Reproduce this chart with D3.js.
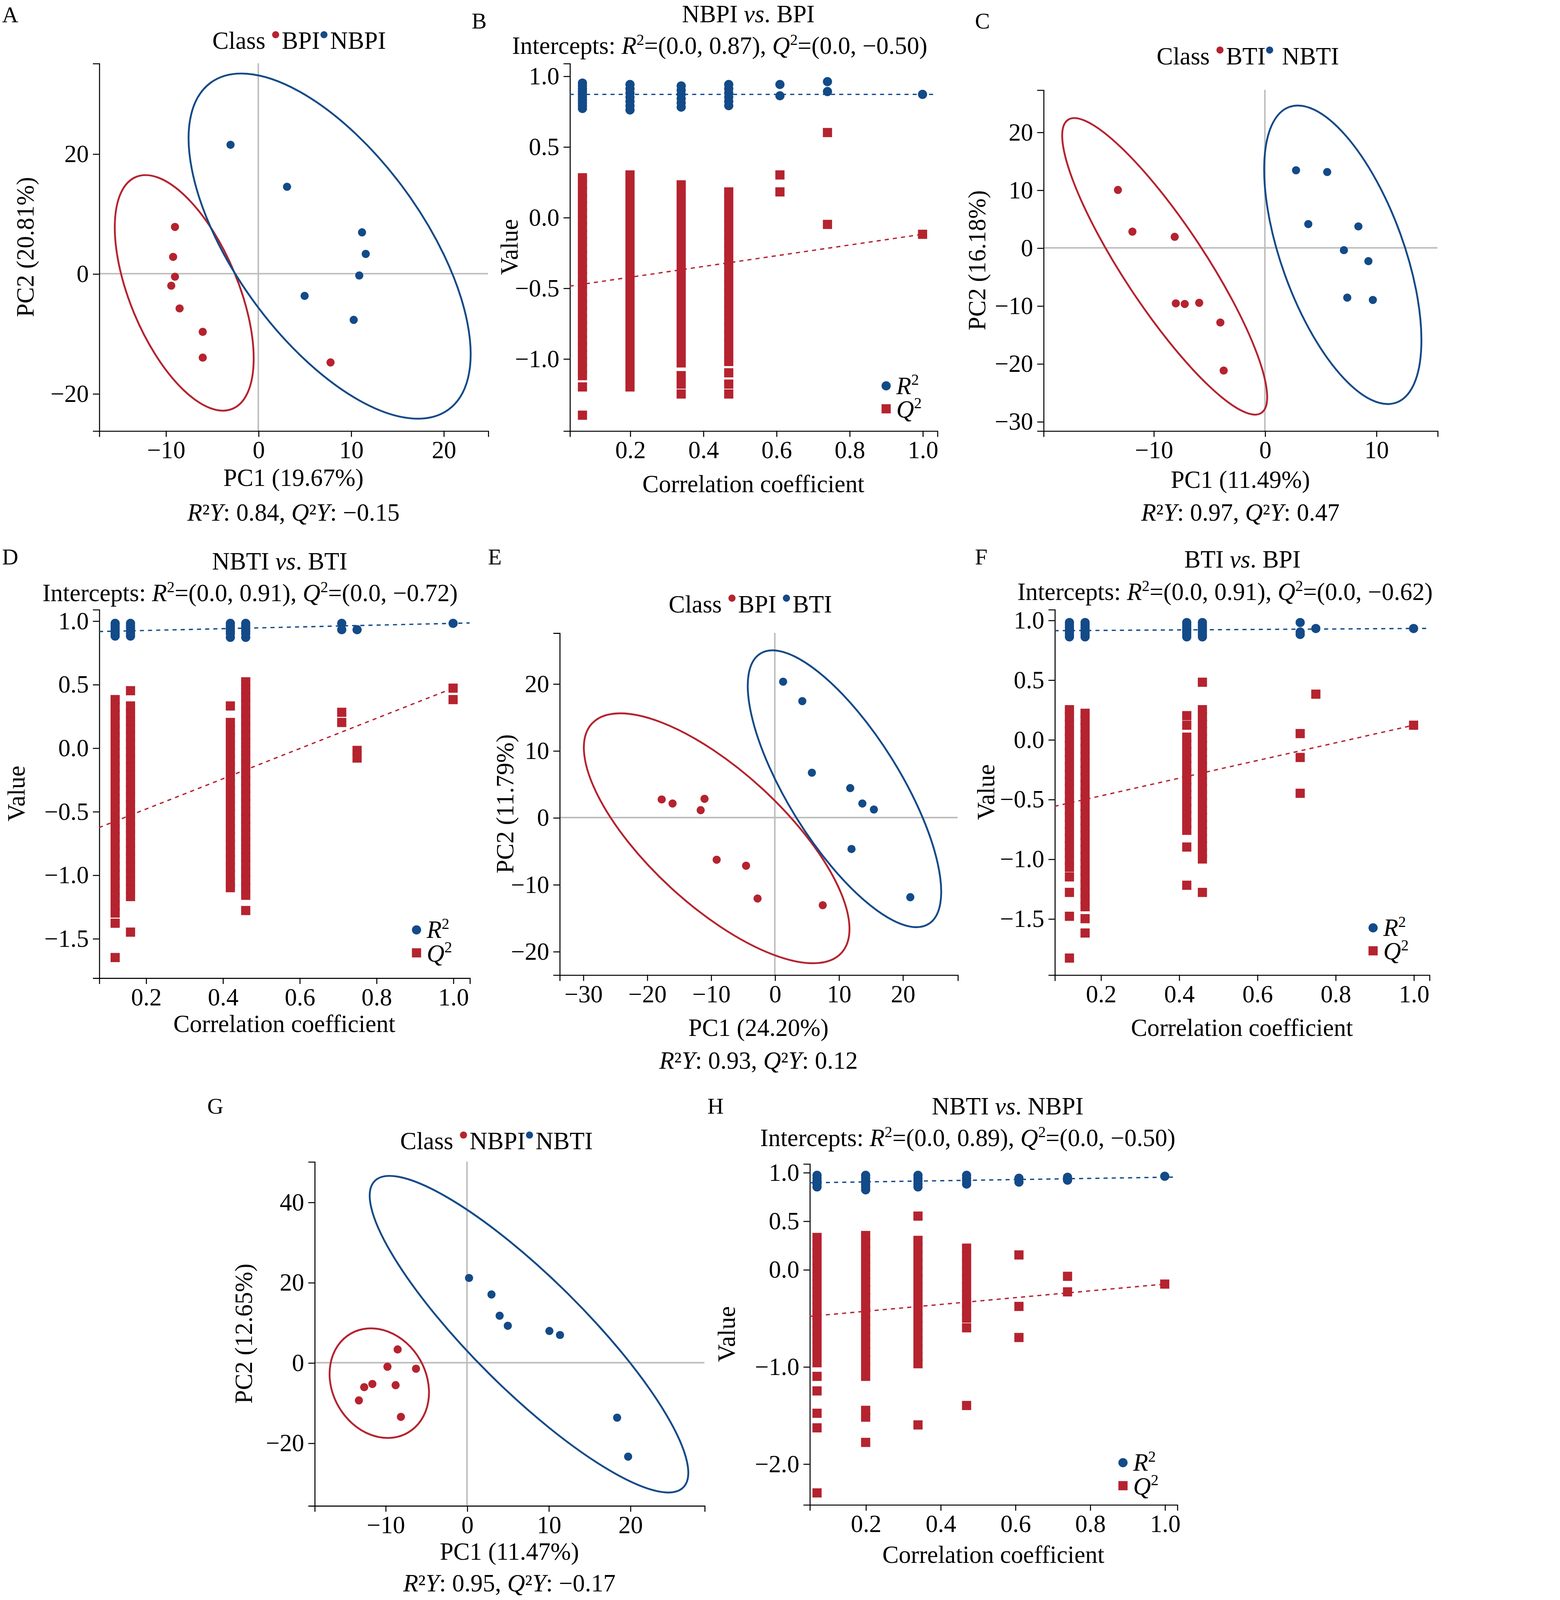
<!DOCTYPE html>
<html>
<head>
<meta charset="utf-8">
<script src="https://cdn.jsdelivr.net/npm/d3@7"></script>
<style>
html, body { margin: 0; padding: 0; background: #fff; overflow: hidden; }
svg { display: block; width: 100vw; height: 100vh; }
text { font-family: "Liberation Serif", "DejaVu Serif", serif; fill: #000; }
.axis path, .axis line { stroke: #000; stroke-width: 1; }
.axis text { font-family: "Liberation Serif", serif; font-size: 24px; }
</style>
</head>
<body>
<script>
const RED = "#B5232F", BLUE = "#134A88";
const svg = d3.select("body").append("svg")
    .attr("viewBox", "0 0 1428 1567.5")
    .attr("preserveAspectRatio", "xMinYMin meet");

// ---------- PCA panels ----------
const pcaPanels = [
  {letter: "A", lx: 2, ly: 22, left: 97, right: 478, top: 62, bottom: 422,
   xdom: [-17.2, 24.8], ydom: [-26.2, 35.1], xticks: [-10, 0, 10, 20], yticks: [-20, 0, 20],
   legend: {x: 208, y: 48, a: "BPI", b: "NBPI"}, xlab: "PC1 (19.67%)", ylab: "PC2 (20.81%)",
   ylabX: 33, r2y: "0.84", q2y: "−0.15", xlabY: 476, r2yY: 510,
   red: [[-9, 7.8], [-9.2, 2.8], [-9, -0.5], [-9.4, -2], [-8.5, -5.8], [-6, -9.7], [-6, -14], [7.8, -14.8]],
   blue: [[-3, 21.5], [3.1, 14.5], [5, -3.7], [11.2, 6.9], [11.6, 3.3], [10.9, -0.3], [10.3, -7.7]],
   ell: [{c: RED, cx: -8, cy: -3.2, a: 123, b: 53, ang: 22.6}, {c: BLUE, cx: 7.7, cy: 4.6, a: 198, b: 92, ang: 36}]},
  {letter: "C", lx: 955, ly: 28, left: 1022, right: 1408, top: 88, bottom: 422,
   xdom: [-19.9, 15.5], ydom: [-31.6, 27.3], xticks: [-10, 0, 10], yticks: [-30, -20, -10, 0, 10, 20],
   legend: {x: 1133, y: 63, a: "BTI", b: " NBTI"}, xlab: "PC1 (11.49%)", ylab: "PC2 (16.18%)",
   ylabX: 965, r2y: "0.97", q2y: "0.47", xlabY: 478, r2yY: 510,
   red: [[-13.2, 10], [-11.9, 2.8], [-8.1, 1.9], [-8, -9.6], [-7.2, -9.7], [-5.9, -9.5], [-4, -12.9], [-3.7, -21.2]],
   blue: [[2.8, 13.4], [5.6, 13.1], [3.9, 4.1], [8.4, 3.7], [7.1, -0.4], [9.3, -2.3], [7.4, -8.6], [9.7, -9]],
   ell: [{c: RED, cx: -9, cy: -3.2, a: 172, b: 40, ang: 33.4}, {c: BLUE, cx: 7, cy: -1.2, a: 154, b: 60, ang: 19.9}]},
  {letter: "E", lx: 478, ly: 553, left: 548, right: 938, top: 620, bottom: 955,
   xdom: [-33.7, 28.6], ydom: [-23.5, 27.6], xticks: [-30, -20, -10, 0, 10, 20], yticks: [-20, -10, 0, 10, 20],
   legend: {x: 655, y: 600, a: "BPI ", b: " BTI"}, xlab: "PC1 (24.20%)", ylab: "PC2 (11.79%)",
   ylabX: 503, r2y: "0.93", q2y: "0.12", xlabY: 1015, r2yY: 1047,
   red: [[-17.7, 2.7], [-16, 2.1], [-11.6, 1.1], [-11, 2.8], [-9.1, -6.3], [-4.5, -7.2], [-2.7, -12.1], [7.5, -13.1]],
   blue: [[1.3, 20.3], [4.3, 17.4], [5.8, 6.7], [11.8, 4.4], [13.7, 2.1], [15.5, 1.2], [12, -4.7], [21.2, -11.9]],
   ell: [{c: RED, cx: -9.1, cy: -3.1, a: 166, b: 66, ang: 47.4}, {c: BLUE, cx: 10.9, cy: 4.3, a: 156, b: 55, ang: 31.9}]},
  {letter: "G", lx: 203, ly: 1091, left: 308, right: 690, top: 1138, bottom: 1475,
   xdom: [-18.7, 29.1], ydom: [-35.6, 50.1], xticks: [-10, 0, 10, 20], yticks: [-20, 0, 20, 40],
   legend: {x: 392, y: 1126, a: "NBPI", b: "NBTI"}, xlab: "PC1 (11.47%)", ylab: "PC2 (12.65%)",
   ylabX: 247, r2y: "0.95", q2y: "−0.17", xlabY: 1528, r2yY: 1559,
   red: [[-8.5, 3.3], [-9.75, -1], [-6.25, -1.5], [-12.6, -6.1], [-11.6, -5.3], [-13.25, -9.4], [-8.75, -5.6], [-8.1, -13.5]],
   blue: [[0.25, 21.1], [3, 17], [4, 11.7], [5, 9.2], [10.1, 7.9], [11.4, 6.9], [18.4, -13.7], [19.75, -23.4]],
   ell: [{c: RED, cx: -10.75, cy: -5.1, a: 56, b: 46, ang: 30}, {c: BLUE, cx: 7.6, cy: 7.1, a: 213, b: 55, ang: 45.2}]}
];

// ---------- permutation panels ----------
const permPanels = [
  {letter: "B", lx: 462, ly: 28, left: 558, right: 918, top: 62, bottom: 422,
   xdom: [0.035, 1.04], ydom: [-1.51, 1.09], yticks: [-1, -0.5, 0, 0.5, 1],
   title: "NBPI", title2: "BPI", titleX: 733, titleY: 22, intX: 705, intY: 53, r2i: "0.87", q2i: "−0.50",
   ylabX: 507, xlabY: 482, legX: 868, legY: 378,
   r2line: [0.87, 0], q2line: [-0.5, 0.38],
   cols: [
    {x: 0.07, r2: [0.95, 0.93, 0.91, 0.89, 0.87, 0.85, 0.83, 0.81, 0.79, 0.77],
     q2: [0.28, 0.23, 0.18, 0.13, 0.08, 0.03, -0.02, -0.07, -0.12, -0.17, -0.22, -0.27, -0.32, -0.37, -0.42, -0.47, -0.52, -0.57, -0.62, -0.67, -0.72, -0.77, -0.82, -0.87, -0.92, -0.97, -1.02, -1.07, -1.12, -1.2, -1.4]},
    {x: 0.2, r2: [0.94, 0.91, 0.88, 0.85, 0.82, 0.79, 0.76],
     q2: [0.3, 0.24, 0.18, 0.12, 0.06, 0, -0.06, -0.12, -0.18, -0.24, -0.3, -0.36, -0.42, -0.48, -0.54, -0.6, -0.66, -0.72, -0.78, -0.84, -0.9, -0.96, -1.02, -1.08, -1.14, -1.2]},
    {x: 0.34, r2: [0.93, 0.9, 0.87, 0.84, 0.81, 0.78],
     q2: [0.23, 0.17, 0.11, 0.05, -0.01, -0.07, -0.13, -0.19, -0.25, -0.31, -0.37, -0.43, -0.49, -0.55, -0.61, -0.67, -0.73, -0.79, -0.85, -0.91, -0.97, -1.03, -1.12, -1.18, -1.25]},
    {x: 0.47, r2: [0.94, 0.91, 0.88, 0.85, 0.82, 0.79],
     q2: [0.18, 0.12, 0.06, 0, -0.06, -0.12, -0.18, -0.24, -0.3, -0.36, -0.42, -0.48, -0.54, -0.6, -0.66, -0.72, -0.78, -0.84, -0.9, -0.96, -1.02, -1.1, -1.18, -1.25]},
    {x: 0.61, r2: [0.94, 0.86], q2: [0.3, 0.18]},
    {x: 0.74, r2: [0.96, 0.89], q2: [0.6, -0.05]},
    {x: 1.0, r2: [0.87], q2: [-0.12]}]},
  {letter: "D", lx: 2, ly: 553, left: 97, right: 460, top: 597, bottom: 958,
   xdom: [0.078, 1.043], ydom: [-1.81, 1.09], yticks: [-1.5, -1, -0.5, 0, 0.5, 1],
   title: "NBTI", title2: "BTI", titleX: 274, titleY: 558, intX: 245, intY: 589, r2i: "0.91", q2i: "−0.72",
   ylabX: 24, xlabY: 1011, legX: 408, legY: 911,
   r2line: [0.91, 0.07], q2line: [-0.72, 1.19],
   cols: [
    {x: 0.12, r2: [0.98, 0.96, 0.94, 0.92, 0.9, 0.88],
     q2: [0.38, 0.32, 0.26, 0.2, 0.14, 0.08, 0.02, -0.04, -0.1, -0.16, -0.22, -0.28, -0.34, -0.4, -0.46, -0.52, -0.58, -0.64, -0.7, -0.76, -0.82, -0.88, -0.94, -1.0, -1.06, -1.12, -1.18, -1.24, -1.3, -1.38, -1.65]},
    {x: 0.16, r2: [0.98, 0.96, 0.94, 0.92, 0.9, 0.88],
     q2: [0.45, 0.33, 0.27, 0.21, 0.15, 0.09, 0.03, -0.03, -0.09, -0.15, -0.21, -0.27, -0.33, -0.39, -0.45, -0.51, -0.57, -0.63, -0.69, -0.75, -0.81, -0.87, -0.93, -0.99, -1.05, -1.11, -1.17, -1.45]},
    {x: 0.42, r2: [0.98, 0.96, 0.94, 0.92, 0.9, 0.87],
     q2: [0.33, 0.2, 0.14, 0.08, 0.02, -0.04, -0.1, -0.16, -0.22, -0.28, -0.34, -0.4, -0.46, -0.52, -0.58, -0.64, -0.7, -0.76, -0.82, -0.88, -0.94, -1.0, -1.06, -1.1]},
    {x: 0.46, r2: [0.98, 0.96, 0.94, 0.92, 0.9, 0.87],
     q2: [0.52, 0.46, 0.4, 0.34, 0.28, 0.22, 0.16, 0.1, 0.04, -0.02, -0.08, -0.14, -0.2, -0.26, -0.32, -0.38, -0.44, -0.5, -0.56, -0.62, -0.68, -0.74, -0.8, -0.86, -0.92, -0.98, -1.04, -1.1, -1.16, -1.28]},
    {x: 0.71, r2: [0.98, 0.93], q2: [0.28, 0.2]},
    {x: 0.75, r2: [0.93], q2: [-0.02, -0.08]},
    {x: 1.0, r2: [0.98], q2: [0.47, 0.38]}]},
  {letter: "F", lx: 955, ly: 553, left: 1033, right: 1400, top: 597, bottom: 955,
   xdom: [0.082, 1.04], ydom: [-1.97, 1.09], yticks: [-1.5, -1, -0.5, 0, 0.5, 1],
   title: "BTI", title2: "BPI", titleX: 1217, titleY: 556, intX: 1200, intY: 588, r2i: "0.91", q2i: "−0.62",
   ylabX: 974, xlabY: 1015, legX: 1345, legY: 909,
   r2line: [0.91, 0.02], q2line: [-0.62, 0.74],
   cols: [
    {x: 0.12, r2: [0.98, 0.96, 0.94, 0.92, 0.9, 0.88, 0.86],
     q2: [0.25, 0.19, 0.13, 0.07, 0.01, -0.05, -0.11, -0.17, -0.23, -0.29, -0.35, -0.41, -0.47, -0.53, -0.59, -0.65, -0.71, -0.77, -0.83, -0.89, -0.95, -1.01, -1.07, -1.15, -1.28, -1.48, -1.83]},
    {x: 0.16, r2: [0.98, 0.96, 0.94, 0.92, 0.9, 0.88, 0.86],
     q2: [0.22, 0.16, 0.1, 0.04, -0.02, -0.08, -0.14, -0.2, -0.26, -0.32, -0.38, -0.44, -0.5, -0.56, -0.62, -0.68, -0.74, -0.8, -0.86, -0.92, -0.98, -1.04, -1.1, -1.16, -1.22, -1.28, -1.34, -1.4, -1.5, -1.62]},
    {x: 0.42, r2: [0.98, 0.96, 0.94, 0.92, 0.9, 0.88, 0.86],
     q2: [0.2, 0.12, 0.02, -0.04, -0.1, -0.16, -0.22, -0.28, -0.34, -0.4, -0.46, -0.52, -0.58, -0.64, -0.7, -0.76, -0.9, -1.22]},
    {x: 0.46, r2: [0.98, 0.96, 0.94, 0.92, 0.9, 0.88, 0.86],
     q2: [0.48, 0.25, 0.19, 0.13, 0.07, 0.01, -0.05, -0.11, -0.17, -0.23, -0.29, -0.35, -0.41, -0.47, -0.53, -0.59, -0.65, -0.71, -0.77, -0.83, -0.89, -0.95, -1.0, -1.28]},
    {x: 0.71, r2: [0.98, 0.9, 0.88], q2: [0.05, -0.15, -0.45]},
    {x: 0.75, r2: [0.93], q2: [0.38]},
    {x: 1.0, r2: [0.93], q2: [0.12]}]},
  {letter: "H", lx: 693, ly: 1091, left: 793, right: 1153, top: 1140, bottom: 1474,
   xdom: [0.05, 1.033], ydom: [-2.42, 1.09], yticks: [-2, -1, 0, 0.5, 1],
   title: "NBTI", title2: "NBPI", titleX: 987, titleY: 1092, intX: 948, intY: 1123, r2i: "0.89", q2i: "−0.50",
   ylabX: 720, xlabY: 1531, legX: 1100, legY: 1433,
   r2line: [0.89, 0.06], q2line: [-0.5, 0.35],
   cols: [
    {x: 0.07, r2: [0.97, 0.94, 0.91, 0.88, 0.85],
     q2: [0.33, 0.25, 0.17, 0.09, 0.01, -0.07, -0.15, -0.23, -0.31, -0.39, -0.47, -0.55, -0.63, -0.71, -0.79, -0.87, -0.96, -1.1, -1.25, -1.48, -1.63, -2.3]},
    {x: 0.2, r2: [0.97, 0.94, 0.91, 0.88, 0.85, 0.82],
     q2: [0.35, 0.27, 0.19, 0.11, 0.03, -0.05, -0.13, -0.21, -0.29, -0.37, -0.45, -0.53, -0.61, -0.69, -0.77, -0.85, -0.93, -1.01, -1.1, -1.45, -1.52, -1.78]},
    {x: 0.34, r2: [0.97, 0.94, 0.91, 0.88, 0.85],
     q2: [0.55, 0.3, 0.22, 0.14, 0.06, -0.02, -0.1, -0.18, -0.26, -0.34, -0.42, -0.5, -0.58, -0.66, -0.74, -0.82, -0.9, -0.97, -1.6]},
    {x: 0.47, r2: [0.97, 0.94, 0.91, 0.88],
     q2: [0.22, 0.14, 0.06, -0.02, -0.1, -0.18, -0.26, -0.34, -0.42, -0.5, -0.6, -1.4]},
    {x: 0.61, r2: [0.94, 0.9], q2: [0.15, -0.38, -0.7]},
    {x: 0.74, r2: [0.95, 0.92], q2: [-0.07, -0.23]},
    {x: 1.0, r2: [0.96], q2: [-0.15]}]}
];

function letter(p) {
    svg.append("text").attr("x", p.lx).attr("y", p.ly).attr("font-size", "22px").text(p.letter);
}

function italicLine(x, y, parts) {
    const t = svg.append("text").attr("x", x).attr("y", y)
        .attr("text-anchor", "middle").attr("font-size", "24px");
    parts.forEach(p => {
        const s = t.append("tspan").text(p[0]);
        if (p[1]) s.attr("font-style", "italic");
    });
    return t;
}

function drawPCA(p) {
    letter(p);
    const x = d3.scaleLinear().domain(p.xdom).range([p.left, p.right]);
    const y = d3.scaleLinear().domain(p.ydom).range([p.bottom, p.top]);
    // reference lines at zero
    svg.append("line").attr("x1", x(0)).attr("x2", x(0)).attr("y1", p.top).attr("y2", p.bottom)
        .attr("stroke", "#bdbdbd").attr("stroke-width", 1.5);
    svg.append("line").attr("x1", p.left).attr("x2", p.right).attr("y1", y(0)).attr("y2", y(0))
        .attr("stroke", "#bdbdbd").attr("stroke-width", 1.5);
    svg.append("g").attr("class", "axis").attr("transform", `translate(0,${p.bottom})`)
        .call(d3.axisBottom(x).tickValues(p.xticks).tickSizeOuter(0).tickSize(6).tickPadding(4));
    svg.append("g").attr("class", "axis").attr("transform", `translate(${p.left},0)`)
        .call(d3.axisLeft(y).tickValues(p.yticks).tickSizeOuter(0).tickSize(6).tickPadding(4));

    p.ell.forEach(e => {
        svg.append("ellipse")
            .attr("cx", x(e.cx)).attr("cy", y(e.cy))
            .attr("rx", e.b).attr("ry", e.a)
            .attr("transform", `rotate(${-e.ang},${x(e.cx)},${y(e.cy)})`)
            .attr("fill", "none").attr("stroke", e.c).attr("stroke-width", 1.8);
    });
    svg.selectAll(null).data(p.red).enter().append("circle")
        .attr("cx", d => x(d[0])).attr("cy", d => y(d[1])).attr("r", 4).attr("fill", RED);
    svg.selectAll(null).data(p.blue).enter().append("circle")
        .attr("cx", d => x(d[0])).attr("cy", d => y(d[1])).attr("r", 4).attr("fill", BLUE);

    // legend
    const lg = svg.append("text").attr("x", p.legend.x).attr("y", p.legend.y).attr("font-size", "24px");
    lg.append("tspan").text("Class ");
    const t1 = lg.append("tspan").attr("dx", 10).text(p.legend.a);
    const t2 = lg.append("tspan").attr("dx", 10).text(p.legend.b);
    const b1 = t1.node().getStartPositionOfChar(0);
    const b2 = t2.node().getStartPositionOfChar(0);
    svg.append("circle").attr("cx", b1.x - 6).attr("cy", p.legend.y - 14).attr("r", 3.5).attr("fill", RED);
    svg.append("circle").attr("cx", b2.x - 6).attr("cy", p.legend.y - 14).attr("r", 3.5).attr("fill", BLUE);

    svg.append("text").attr("x", (p.left + p.right) / 2).attr("y", p.xlabY)
        .attr("text-anchor", "middle").attr("font-size", "24px").text(p.xlab);
    svg.append("text").attr("transform", `translate(${p.ylabX},${(p.top + p.bottom) / 2}) rotate(-90)`)
        .attr("text-anchor", "middle").attr("font-size", "24px").text(p.ylab);
    italicLine((p.left + p.right) / 2, p.r2yY,
        [["R", 1], ["²", 0], ["Y", 1], [": " + p.r2y + ", ", 0], ["Q", 1], ["²", 0], ["Y", 1], [": " + p.q2y, 0]]);
}

function drawPerm(p) {
    letter(p);
    const x = d3.scaleLinear().domain(p.xdom).range([p.left, p.right]);
    const y = d3.scaleLinear().domain(p.ydom).range([p.bottom, p.top]);
    svg.append("g").attr("class", "axis").attr("transform", `translate(0,${p.bottom})`)
        .call(d3.axisBottom(x).tickValues([0.2, 0.4, 0.6, 0.8, 1.0]).tickFormat(d3.format(".1f"))
            .tickSizeOuter(0).tickSize(6).tickPadding(4));
    svg.append("g").attr("class", "axis").attr("transform", `translate(${p.left},0)`)
        .call(d3.axisLeft(y).tickValues(p.yticks).tickFormat(d3.format(".1f"))
            .tickSizeOuter(0).tickSize(6).tickPadding(4));

    // regression lines
    const x0 = p.xdom[0], x1 = p.xdom[1];
    svg.append("line").attr("x1", x(x0)).attr("x2", x(x1))
        .attr("y1", y(p.r2line[0] + p.r2line[1] * x0)).attr("y2", y(p.r2line[0] + p.r2line[1] * x1))
        .attr("stroke", BLUE).attr("stroke-width", 1.3).attr("stroke-dasharray", "4,4");
    svg.append("line").attr("x1", x(x0)).attr("x2", x(1.0))
        .attr("y1", y(p.q2line[0] + p.q2line[1] * x0)).attr("y2", y(p.q2line[0] + p.q2line[1] * 1.0))
        .attr("stroke", RED).attr("stroke-width", 1.3).attr("stroke-dasharray", "4,4");

    const r2pts = [], q2pts = [];
    p.cols.forEach(c => {
        c.r2.forEach(v => r2pts.push([c.x, v]));
        c.q2.forEach(v => q2pts.push([c.x, v]));
    });
    svg.selectAll(null).data(q2pts).enter().append("rect")
        .attr("x", d => x(d[0]) - 4.5).attr("y", d => y(d[1]) - 4.5)
        .attr("width", 9).attr("height", 9).attr("fill", RED);
    svg.selectAll(null).data(r2pts).enter().append("circle")
        .attr("cx", d => x(d[0])).attr("cy", d => y(d[1])).attr("r", 4.5).attr("fill", BLUE);

    // legend
    svg.append("circle").attr("cx", p.legX).attr("cy", p.legY).attr("r", 4.5).attr("fill", BLUE);
    svg.append("rect").attr("x", p.legX - 4.5).attr("y", p.legY + 18).attr("width", 9).attr("height", 9).attr("fill", RED);
    const l1 = svg.append("text").attr("x", p.legX + 10).attr("y", p.legY + 8).attr("font-size", "24px");
    l1.append("tspan").attr("font-style", "italic").text("R");
    l1.append("tspan").attr("font-size", "15px").attr("dy", -9).text("2");
    const l2 = svg.append("text").attr("x", p.legX + 10).attr("y", p.legY + 31).attr("font-size", "24px");
    l2.append("tspan").attr("font-style", "italic").text("Q");
    l2.append("tspan").attr("font-size", "15px").attr("dy", -9).text("2");

    // titles
    const tt = svg.append("text").attr("x", p.titleX).attr("y", p.titleY)
        .attr("text-anchor", "middle").attr("font-size", "24px");
    tt.append("tspan").text(p.title + " ");
    tt.append("tspan").attr("font-style", "italic").text("vs");
    tt.append("tspan").text(". " + p.title2);
    const it = svg.append("text").attr("x", p.intX).attr("y", p.intY)
        .attr("text-anchor", "middle").attr("font-size", "24px");
    it.append("tspan").text("Intercepts: ");
    it.append("tspan").attr("font-style", "italic").text("R");
    it.append("tspan").attr("font-size", "15px").attr("dy", -9).text("2");
    it.append("tspan").attr("dy", 9).text("=(0.0, " + p.r2i + "), ");
    it.append("tspan").attr("font-style", "italic").text("Q");
    it.append("tspan").attr("font-size", "15px").attr("dy", -9).text("2");
    it.append("tspan").attr("dy", 9).text("=(0.0, " + p.q2i + ")");

    svg.append("text").attr("x", (p.left + p.right) / 2).attr("y", p.xlabY)
        .attr("text-anchor", "middle").attr("font-size", "24px").text("Correlation coefficient");
    svg.append("text").attr("transform", `translate(${p.ylabX},${(p.top + p.bottom) / 2}) rotate(-90)`)
        .attr("text-anchor", "middle").attr("font-size", "24px").text("Value");
}

pcaPanels.forEach(drawPCA);
permPanels.forEach(drawPerm);
</script>
</body>
</html>
